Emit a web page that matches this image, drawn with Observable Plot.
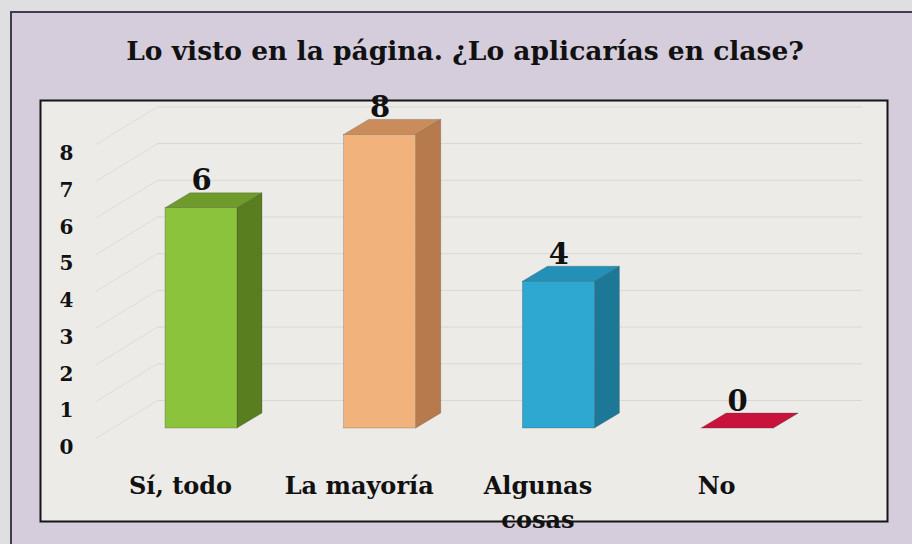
<!DOCTYPE html>
<html>
<head>
<meta charset="utf-8">
<script src="https://cdn.jsdelivr.net/npm/d3@7"></script>
<script src="https://cdn.jsdelivr.net/npm/@observablehq/plot@0.6"></script>
<style>
  html, body { margin: 0; padding: 0; }
  #page { position: relative; width: 912px; height: 544px; background: #dfdee0; overflow: hidden; }
  #outer { position: absolute; left: 10px; top: 11px; right: 0; bottom: 0; background: #d5cddc;
           border-left: 2px solid #3f3d4a; border-top: 2px solid #3f3d4a; }
  #title { position: absolute; left: 0; width: 930px; top: 38px; text-align: center;
           font-family: "DejaVu Serif", serif; font-weight: bold; font-size: 26.5px; line-height: 1; color: #111; }
  #chart { position: absolute; left: 0; top: 0; }
</style>
</head>
<body>
<div id="page">
  <div id="outer"></div>
  <div id="title">Lo visto en la página. ¿Lo aplicarías en clase?</div>
  <div id="chart"></div>
</div>
<script>
// ---- data ----
const categories = ["Sí, todo", "La mayoría", "Algunas\ncosas", "No"];
const values = [6, 8, 4, 0];
const yTicks = [0, 1, 2, 3, 4, 5, 6, 7, 8];
const frontColors = ["#8cc33c", "#f1b37b", "#2ea8d1", "#d0203f"];
const topColors   = ["#6f9b2b", "#c98c5a", "#2390b7", "#c8143c"];
const sideColors  = ["#587e20", "#b67a4d", "#1d7898", "#9a1030"];

// ---- geometry (pixels) ----
const W = 912, H = 544;
const xRange = [90.65, 805.45];   // category centers at 180, 358.7, 537.4, 716
const yRange = [428, 134.4];
const KX = (xRange[1] - xRange[0]) / 4;
const KY = (yRange[0] - yRange[1]) / 8;
const fl = -15 / KX, fr = 57 / KX;   // front face offsets from category center
const d = 25 / KX, e = 15 / KY;      // 3D depth
const g = 28 / KY;                   // back wall offset
const wallX0 = (157 - 180) / KX, wallX1 = (862 - 180) / KX;
const sideX0 = (95 - 180) / KX, sideDrop = 38 / KY;

const bars = values.map((v, i) => ({i, v, cat: categories[i]}));
const sidePts = bars.flatMap(b => [
  {i: b.i, x: b.i + fr, y1: 0, y2: b.v},
  {i: b.i, x: b.i + fr + d, y1: e, y2: b.v + e}
]);
const topPts = bars.flatMap(b => [
  {i: b.i, y: b.v, x1: b.i + fl, x2: b.i + fr},
  {i: b.i, y: b.v + e, x1: b.i + fl + d, x2: b.i + fr + d}
]);

const plot = Plot.plot({
  width: W, height: H,
  marginLeft: 40, marginTop: 100, marginRight: 25, marginBottom: 23,
  style: {background: "transparent", overflow: "visible"},
  x: {type: "linear", domain: [-0.5, 3.5], range: xRange, axis: null},
  y: {type: "linear", domain: [0, 8], range: yRange, axis: null},
  marks: [
    Plot.frame({fill: "#ecebe8", stroke: "#151515", strokeWidth: 2}),
    // back wall grid
    Plot.ruleY(yTicks, {y: t => t + g, x1: wallX0, x2: wallX1, stroke: "#d9d8d6", strokeWidth: 1}),
    Plot.link(yTicks, {x1: sideX0, y1: t => t + g - sideDrop, x2: wallX0, y2: t => t + g, stroke: "#dedddb", strokeWidth: 1}),
    // side faces
    Plot.areaY(sidePts, {x: "x", y1: "y1", y2: "y2", z: "i", fill: p => sideColors[p.i], stroke: "#333", strokeWidth: 0.4, strokeOpacity: 0.6}),
    // top faces
    Plot.areaX(topPts, {y: "y", x1: "x1", x2: "x2", z: "i", fill: p => topColors[p.i], stroke: "#333", strokeWidth: 0.4, strokeOpacity: 0.6}),
    // front faces
    Plot.rect(bars, {x1: b => b.i + fl, x2: b => b.i + fr, y1: 0, y2: "v", fill: b => frontColors[b.i], stroke: "#333", strokeWidth: 0.4, strokeOpacity: 0.6}),
    // value labels
    Plot.text(bars, {x: b => b.i + (fl + fr) / 2, y: b => b.v + e, dy: -3, text: b => String(b.v), lineAnchor: "bottom",
      fontFamily: "DejaVu Serif", fontWeight: "bold", fontSize: 29, fill: "#111"}),
    // y tick labels
    Plot.text(yTicks, {y: t => t, frameAnchor: "left", dx: 26, dy: 19, text: t => String(t), textAnchor: "middle",
      fontFamily: "DejaVu Serif", fontWeight: "bold", fontSize: 20, fill: "#111"}),
    // category labels
    Plot.text(bars, {x: "i", frameAnchor: "bottom", dy: -51, text: "cat", lineAnchor: "top", lineHeight: 1.4,
      fontFamily: "DejaVu Serif", fontWeight: "bold", fontSize: 24, fill: "#111"})
  ]
});
document.getElementById("chart").appendChild(plot);
</script>
</body>
</html>
